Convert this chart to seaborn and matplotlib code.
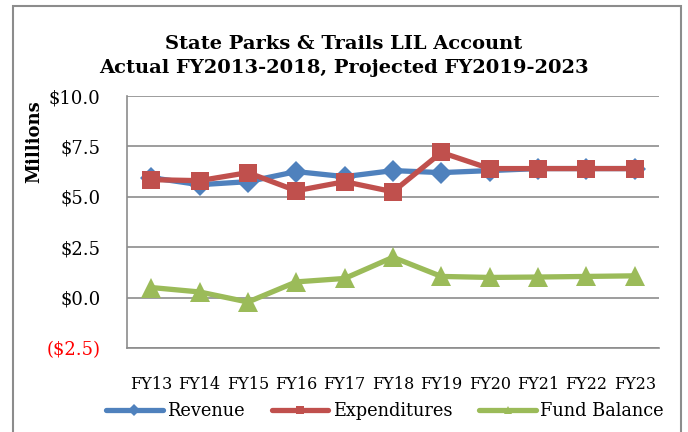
import numpy as np
import pandas as pd
import matplotlib
matplotlib.use("Agg")
import matplotlib.pyplot as plt
from matplotlib.lines import Line2D
from matplotlib.patches import Rectangle
import seaborn as sns

# ====== DATA ======
years = ["FY13", "FY14", "FY15", "FY16", "FY17", "FY18",
         "FY19", "FY20", "FY21", "FY22", "FY23"]
revenue = [5.95, 5.6, 5.75, 6.25, 6.0, 6.3, 6.2, 6.3, 6.4, 6.4, 6.4]
expenditures = [5.85, 5.8, 6.2, 5.3, 5.75, 5.25, 7.2, 6.4, 6.4, 6.4, 6.4]
fund_balance = [0.5, 0.28, -0.22, 0.78, 0.95, 2.0, 1.05, 1.0, 1.02, 1.05, 1.08]

series_names = ["Revenue", "Expenditures", "Fund Balance"]
colors = ["#4F81BD", "#C0504D", "#9BBB59"]
markers = ["D", "s", "^"]
msizes = [11, 13, 14]

df = pd.DataFrame({
    "year": years * 3,
    "value": revenue + expenditures + fund_balance,
    "series": ["Revenue"] * 11 + ["Expenditures"] * 11 + ["Fund Balance"] * 11,
})

# ====== STYLE ======
sns.set_style("white")
plt.rcParams["font.family"] = ["DejaVu Serif"]
plt.rcParams["text.color"] = "black"
plt.rcParams["xtick.color"] = "black"
plt.rcParams["ytick.color"] = "black"
plt.rcParams["axes.labelcolor"] = "black"

fig = plt.figure(figsize=(6.88, 4.32), dpi=100)
ax = fig.add_axes([127 / 688, 1 - 348 / 432, 532 / 688, 252 / 432])

# outer chart border
fig.patches.append(Rectangle((13 / 688, -0.05), 668 / 688, 1 - 6 / 432 + 0.05,
                             transform=fig.transFigure, fill=False,
                             edgecolor="#8c8c8c", linewidth=1.5))

for name, c, m, ms in zip(series_names, colors, markers, msizes):
    sub = df[df["series"] == name]
    sns.lineplot(data=sub, x="year", y="value", ax=ax, color=c,
                 marker=m, markersize=ms, markeredgewidth=0,
                 linewidth=3.8, sort=False, legend=False)

ax.set_xlim(-0.5, 10.5)
ax.set_ylim(-2.5, 10.0)
yticks = [-2.5, 0.0, 2.5, 5.0, 7.5, 10.0]
ax.set_yticks(yticks)
ylabels = [f"(${-v:.1f})" if v < 0 else f"${v:.1f}" for v in yticks]
ax.set_yticklabels(ylabels, fontsize=13)
for lbl, v in zip(ax.get_yticklabels(), yticks):
    if v < 0:
        lbl.set_color("red")
ax.tick_params(axis="y", length=0, pad=19)
ax.tick_params(axis="x", length=0, pad=20, labelsize=11.5)
ax.grid(axis="y", color="#8c8c8c", linewidth=1.2)
ax.set_axisbelow(True)
for side in ["top", "right"]:
    ax.spines[side].set_visible(False)
for side in ["left", "bottom"]:
    ax.spines[side].set_color("#8c8c8c")
    ax.spines[side].set_linewidth(1.2)

ax.set_xlabel("")
ax.set_ylabel("Millions", fontsize=13, fontweight="bold")
ax.yaxis.set_label_coords(-0.158, 0.82)

fig.text(0.5, 1 - 56 / 432, "State Parks & Trails LIL Account\nActual FY2013-2018, Projected FY2019-2023",
         ha="center", va="center", fontsize=14, fontweight="bold", linespacing=1.4)

handles = [Line2D([0], [0], color=c, marker=m, markersize=6, linewidth=3.8,
                  markeredgewidth=0) for c, m in zip(colors, markers)]
fig.legend(handles, series_names, loc="center", bbox_to_anchor=(385 / 688, 1 - 411 / 432),
           ncol=3, frameon=False, fontsize=12.8, handlelength=3.2,
           handletextpad=0.25, columnspacing=1.5)

fig.savefig("out.png", dpi=100)
